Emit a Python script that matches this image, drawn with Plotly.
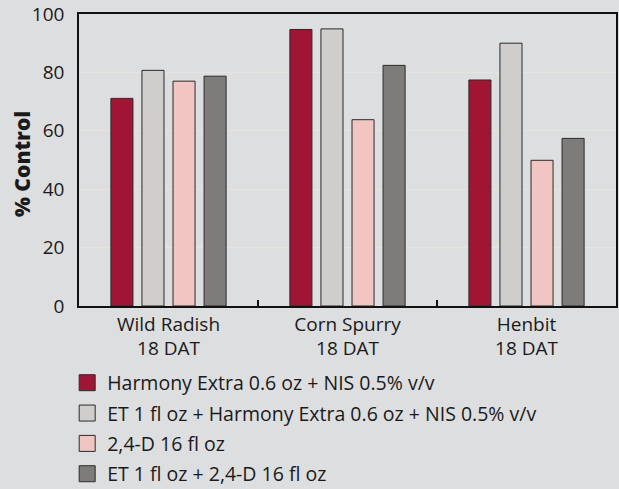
import plotly.graph_objects as go

categories = ["Wild Radish<br>18 DAT", "Corn Spurry<br>18 DAT", "Henbit<br>18 DAT"]
series_names = [
    "Harmony Extra 0.6 oz + NIS 0.5% v/v",
    "ET 1 fl oz + Harmony Extra 0.6 oz + NIS 0.5% v/v",
    "2,4-D 16 fl oz",
    "ET 1 fl oz + 2,4-D 16 fl oz",
]
harmony = [71.1, 94.7, 77.4]
et_harmony = [80.7, 94.9, 90.0]
d24 = [77.0, 63.8, 49.9]
et_d24 = [78.7, 82.4, 57.4]
series_values = [harmony, et_harmony, d24, et_d24]
colors = ["#a11534", "#cfcecc", "#f0c5c2", "#7d7c7a"]
y_ticks = [0, 20, 40, 60, 80, 100]
y_title = "% Control"

FONT = "Open Sans"
BG = "#dddee0"
FS = 19

fig = go.Figure()
for i, (name, vals, col) in enumerate(zip(series_names, series_values, colors)):
    fig.add_trace(go.Bar(
        x=categories, y=vals, name=name, showlegend=False,
        marker=dict(color=col, line=dict(color="#2a2a2a", width=1)),
    ))
# legend entries with larger square swatches
for i, (name, col) in enumerate(zip(series_names, colors)):
    fig.add_trace(go.Scatter(
        x=[None], y=[None], mode="markers", name=name,
        marker=dict(symbol="square", size=16, color=col,
                    line=dict(color="#2a2a2a", width=1)),
        legendgroup=f"g{i}", showlegend=True,
    ))

fig.update_layout(
    width=619, height=489,
    margin=dict(l=79, r=3, t=14, b=183, autoexpand=False),
    paper_bgcolor=BG, plot_bgcolor=BG,
    barmode="group", bargap=0.306, bargroupgap=0.29,
    font=dict(family=FONT, size=FS, color="#1a1a1a"),
    showlegend=True,
    legend=dict(
        orientation="v", x=-0.022, xanchor="left", y=-0.197, yanchor="top",
        font=dict(family=FONT, size=19.5, color="#1a1a1a"),
        tracegroupgap=2, itemwidth=30, bgcolor="rgba(0,0,0,0)",
        traceorder="grouped",
    ),
    xaxis=dict(
        range=[-0.5, 2.5], showline=True, linecolor="#111", linewidth=1.5,
        mirror=True, ticks="inside", tickson="boundaries", ticklen=6,
        tickcolor="#111", tickwidth=1.5, showgrid=False, automargin=False,
        tickfont=dict(family=FONT, size=FS),
    ),
    yaxis=dict(
        range=[0, 100], tickvals=y_ticks, showline=True, linecolor="#111",
        linewidth=1.5, mirror=True, ticks="", showgrid=True, automargin=False,
        gridcolor="#e6e4de", gridwidth=1, zeroline=False,
        tickfont=dict(family=FONT, size=FS), ticklabelstandoff=9,
    ),
    annotations=[dict(
        text=y_title, xref="paper", yref="paper", x=-0.105, y=0.485,
        xanchor="center", yanchor="middle", textangle=-90, showarrow=False,
        font=dict(family=FONT, size=21, weight=800, color="#1a1a1a"),
    )],
)

fig.write_html(
    "out.html",
    config={"displayModeBar": False},
    post_script="document.body.style.margin='0';document.body.style.background='%s';" % BG,
)
